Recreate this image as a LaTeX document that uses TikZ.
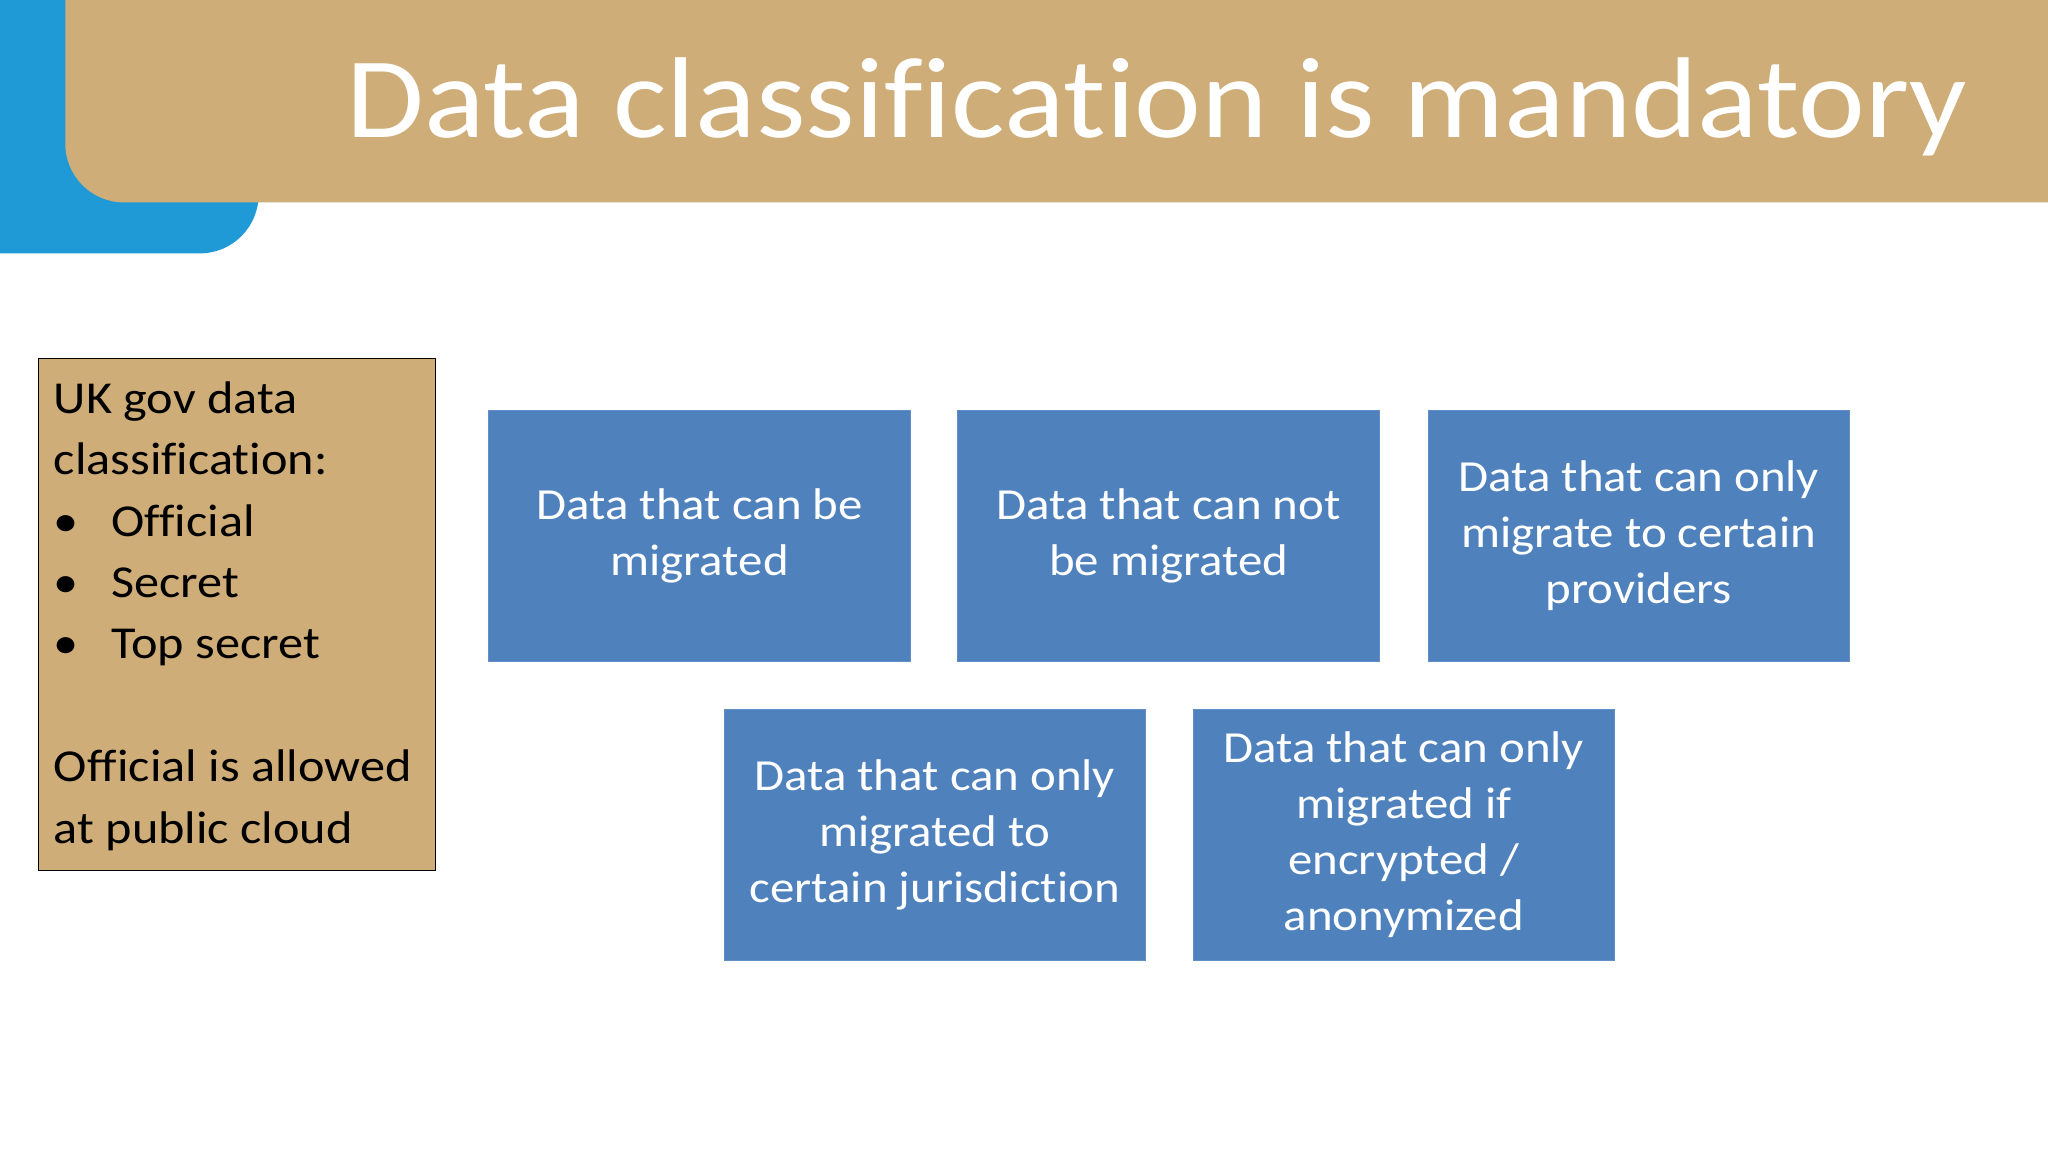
\documentclass[tikz,border=0pt]{standalone}
\usepackage{fontspec}
\setmainfont{Carlito}[FakeStretch=1.1,Ligatures={NoCommon}]
\definecolor{tan}{HTML}{CEAD78}
\definecolor{sky}{HTML}{1F9AD6}
\definecolor{boxblue}{HTML}{4F81BD}
\tikzset{bluebox/.style={fill=boxblue,draw=boxblue!90!white,minimum width=323pt,minimum height=192pt,inner sep=0pt,text=white,align=center,font=\fontsize{34}{43}\selectfont,anchor=north west}}
\begin{document}
\begin{tikzpicture}[x=1pt,y=-1pt]
\useasboundingbox (0,0) rectangle (1568,882);
\fill[white] (0,0) rectangle (1568,882);
\fill[sky] (0,0) -- (198,0) -- (198,149) arc[start angle=0,end angle=90,radius=45] -- (0,194) -- cycle;
\fill[tan] (50,0) -- (1568,0) -- (1568,155) -- (95,155) arc[start angle=90,end angle=180,radius=45] -- cycle;
\node[text=white,font=\fontsize{88}{100}\selectfont,anchor=base west,inner sep=0pt] (title) at (265,105) {Data classification is mandatory};
\node[draw=black,fill=tan,minimum width=304pt,minimum height=392pt,anchor=north west,inner sep=0pt] (uk) at (29,274) {};
\node[anchor=north west,align=left,font=\fontsize{35}{47}\selectfont,inner sep=0pt] (uktext) at (41,292) {UK gov data\\classification:\\[0pt]\hbox to 44pt{\textbullet\hfil}Official\\\hbox to 44pt{\textbullet\hfil}Secret\\\hbox to 44pt{\textbullet\hfil}Top secret\\[47pt]Official is allowed\\at public cloud};
\node[bluebox] (b1) at (374,314) {Data that can be\\migrated};
\node[bluebox] (b2) at (733,314) {Data that can not\\be migrated};
\node[bluebox] (b3) at (1093,314) {Data that can only\\migrate to certain\\providers};
\node[bluebox] (b4) at (554,543) {Data that can only\\migrated to\\certain jurisdiction};
\node[bluebox] (b5) at (913,543) {Data that can only\\migrated if\\encrypted /\\anonymized};
\end{tikzpicture}
\end{document}
